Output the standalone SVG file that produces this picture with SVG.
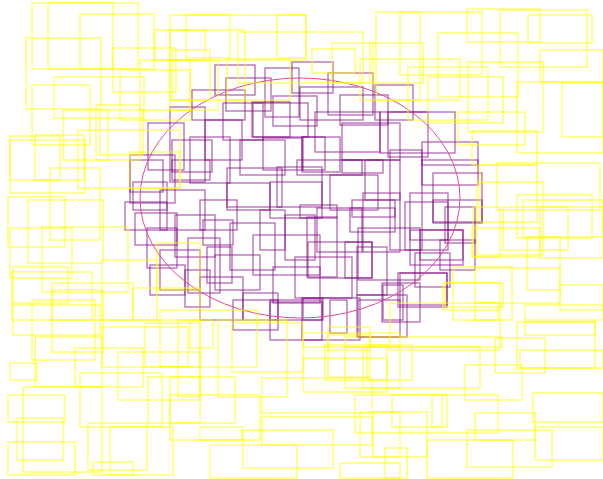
<svg xmlns="http://www.w3.org/2000/svg" width="603" height="479" viewBox="0 0 603 479">
<style>
.p{fill:none;stroke:#800080;stroke-width:1.3;stroke-opacity:0.6}
.y{fill:none;stroke:#ffff00;stroke-width:1.3;stroke-opacity:0.65}
.e{fill:none;stroke:#e04a9e;stroke-width:1}
</style>
<rect width="603" height="479" fill="#ffffff"/>
<g id="purple">
<rect class="p" x="226" y="78" width="45" height="33"/>
<rect class="p" x="265" y="68" width="34" height="49"/>
<rect class="p" x="292" y="62" width="41" height="31"/>
<rect class="p" x="328" y="73" width="45" height="42"/>
<rect class="p" x="273" y="96" width="44" height="30"/>
<rect class="p" x="300" y="87" width="63" height="33"/>
<rect class="p" x="223" y="103" width="40" height="37"/>
<rect class="p" x="253" y="103" width="55" height="34"/>
<rect class="p" x="315" y="112" width="65" height="40"/>
<rect class="p" x="342" y="123" width="58" height="37"/>
<rect class="p" x="240" y="140" width="45" height="35"/>
<rect class="p" x="205" y="120" width="37" height="40"/>
<rect class="p" x="388" y="112" width="40" height="45"/>
<rect class="p" x="302" y="137" width="38" height="35"/>
<rect class="p" x="192" y="90" width="53" height="30"/>
<rect class="p" x="148" y="123" width="36" height="47"/>
<rect class="p" x="172" y="140" width="40" height="32"/>
<rect class="p" x="252" y="102" width="38" height="35"/>
<rect class="p" x="263" y="138" width="40" height="32"/>
<rect class="p" x="302" y="137" width="23" height="33"/>
<rect class="p" x="130" y="155" width="45" height="48"/>
<rect class="p" x="190" y="137" width="40" height="46"/>
<rect class="p" x="133" y="182" width="34" height="28"/>
<rect class="p" x="227" y="183" width="43" height="27"/>
<rect class="p" x="277" y="167" width="45" height="40"/>
<rect class="p" x="170" y="107" width="35" height="75"/>
<rect class="p" x="380" y="112" width="75" height="41"/>
<rect class="p" x="422" y="142" width="56" height="23"/>
<rect class="p" x="375" y="85" width="38" height="35"/>
<rect class="p" x="125" y="202" width="42" height="28"/>
<rect class="p" x="135" y="213" width="42" height="32"/>
<rect class="p" x="147" y="228" width="30" height="40"/>
<rect class="p" x="160" y="250" width="40" height="40"/>
<rect class="p" x="185" y="270" width="25" height="37"/>
<rect class="p" x="130" y="160" width="33" height="32"/>
<rect class="p" x="172" y="160" width="38" height="20"/>
<rect class="p" x="188" y="238" width="32" height="55"/>
<rect class="p" x="200" y="200" width="37" height="30"/>
<rect class="p" x="227" y="168" width="55" height="39"/>
<rect class="p" x="270" y="182" width="52" height="36"/>
<rect class="p" x="260" y="210" width="25" height="40"/>
<rect class="p" x="230" y="223" width="45" height="47"/>
<rect class="p" x="253" y="235" width="67" height="40"/>
<rect class="p" x="307" y="217" width="30" height="60"/>
<rect class="p" x="317" y="208" width="45" height="44"/>
<rect class="p" x="297" y="160" width="65" height="15"/>
<rect class="p" x="342" y="160" width="41" height="13"/>
<rect class="p" x="350" y="208" width="45" height="24"/>
<rect class="p" x="363" y="193" width="37" height="59"/>
<rect class="p" x="295" y="257" width="57" height="41"/>
<rect class="p" x="345" y="242" width="27" height="36"/>
<rect class="p" x="357" y="247" width="30" height="48"/>
<rect class="p" x="273" y="267" width="47" height="36"/>
<rect class="p" x="243" y="293" width="35" height="27"/>
<rect class="p" x="207" y="247" width="25" height="36"/>
<rect class="p" x="200" y="277" width="43" height="43"/>
<rect class="p" x="303" y="298" width="20" height="22"/>
<rect class="p" x="270" y="302" width="52" height="18"/>
<rect class="p" x="383" y="285" width="20" height="35"/>
<rect class="p" x="203" y="220" width="30" height="25"/>
<rect class="p" x="422" y="160" width="56" height="25"/>
<rect class="p" x="433" y="173" width="49" height="49"/>
<rect class="p" x="410" y="193" width="38" height="47"/>
<rect class="p" x="445" y="207" width="30" height="36"/>
<rect class="p" x="420" y="230" width="43" height="30"/>
<rect class="p" x="415" y="253" width="35" height="34"/>
<rect class="p" x="400" y="273" width="47" height="32"/>
<rect class="p" x="390" y="150" width="32" height="100"/>
<rect class="p" x="300" y="205" width="37" height="13"/>
<rect class="p" x="352" y="200" width="43" height="17"/>
<rect class="p" x="308" y="242" width="64" height="36"/>
<rect class="p" x="358" y="228" width="62" height="52"/>
<rect class="p" x="405" y="202" width="43" height="48"/>
<rect class="p" x="410" y="230" width="53" height="35"/>
<rect class="p" x="433" y="200" width="49" height="23"/>
<rect class="p" x="398" y="273" width="49" height="34"/>
<rect class="p" x="382" y="283" width="38" height="39"/>
<rect class="p" x="357" y="295" width="50" height="42"/>
<rect class="p" x="302" y="298" width="58" height="42"/>
<rect class="p" x="233" y="300" width="45" height="30"/>
<rect class="p" x="270" y="300" width="52" height="40"/>
<rect class="p" x="330" y="300" width="17" height="33"/>
<rect class="p" x="358" y="300" width="42" height="37"/>
<rect class="p" x="160" y="190" width="45" height="40"/>
<rect class="p" x="175" y="215" width="40" height="42"/>
<rect class="p" x="330" y="175" width="48" height="35"/>
<rect class="p" x="365" y="160" width="35" height="40"/>
<rect class="p" x="215" y="65" width="40" height="30"/>
<rect class="p" x="340" y="95" width="48" height="30"/>
<rect class="p" x="215" y="255" width="45" height="35"/>
<rect class="p" x="285" y="215" width="30" height="45"/>
<rect class="p" x="150" y="265" width="35" height="30"/>
<rect class="p" x="440" y="240" width="35" height="30"/>
</g>
<ellipse id="ellipse" class="e" cx="300" cy="198" rx="160" ry="120"/>
<g id="yellow">
<rect class="y" x="32" y="3" width="106" height="66"/>
<rect class="y" x="48" y="3" width="65" height="66"/>
<rect class="y" x="80" y="14" width="74" height="55"/>
<rect class="y" x="26" y="38" width="75" height="71"/>
<rect class="y" x="113" y="48" width="63" height="44"/>
<rect class="y" x="155" y="30" width="50" height="30"/>
<rect class="y" x="186" y="15" width="44" height="43"/>
<rect class="y" x="54" y="77" width="90" height="41"/>
<rect class="y" x="32" y="85" width="58" height="60"/>
<rect class="y" x="96" y="105" width="44" height="55"/>
<rect class="y" x="63" y="110" width="45" height="50"/>
<rect class="y" x="10" y="136" width="50" height="44"/>
<rect class="y" x="35" y="135" width="49" height="45"/>
<rect class="y" x="172" y="50" width="38" height="50"/>
<rect class="y" x="140" y="60" width="50" height="50"/>
<rect class="y" x="170" y="15" width="136" height="45"/>
<rect class="y" x="277" y="15" width="29" height="43"/>
<rect class="y" x="238" y="32" width="125" height="51"/>
<rect class="y" x="170" y="30" width="75" height="70"/>
<rect class="y" x="312" y="49" width="43" height="24"/>
<rect class="y" x="332" y="43" width="41" height="40"/>
<rect class="y" x="227" y="59" width="63" height="41"/>
<rect class="y" x="170" y="60" width="48" height="50"/>
<rect class="y" x="376" y="12" width="44" height="88"/>
<rect class="y" x="400" y="12" width="82" height="63"/>
<rect class="y" x="467" y="9" width="73" height="33"/>
<rect class="y" x="500" y="10" width="87" height="57"/>
<rect class="y" x="528" y="15" width="64" height="28"/>
<rect class="y" x="438" y="33" width="80" height="64"/>
<rect class="y" x="370" y="43" width="53" height="40"/>
<rect class="y" x="408" y="67" width="80" height="53"/>
<rect class="y" x="360" y="59" width="100" height="41"/>
<rect class="y" x="428" y="77" width="75" height="46"/>
<rect class="y" x="468" y="62" width="75" height="70"/>
<rect class="y" x="540" y="50" width="63" height="32"/>
<rect class="y" x="517" y="82" width="86" height="71"/>
<rect class="y" x="562" y="83" width="41" height="54"/>
<rect class="y" x="458" y="112" width="67" height="33"/>
<rect class="y" x="472" y="131" width="65" height="34"/>
<rect class="y" x="10" y="140" width="75" height="53"/>
<rect class="y" x="78" y="130" width="102" height="58"/>
<rect class="y" x="8" y="197" width="57" height="50"/>
<rect class="y" x="28" y="200" width="75" height="63"/>
<rect class="y" x="50" y="168" width="50" height="72"/>
<rect class="y" x="10" y="228" width="62" height="50"/>
<rect class="y" x="42" y="227" width="86" height="65"/>
<rect class="y" x="12" y="272" width="80" height="48"/>
<rect class="y" x="102" y="260" width="55" height="60"/>
<rect class="y" x="13" y="267" width="55" height="36"/>
<rect class="y" x="52" y="283" width="81" height="37"/>
<rect class="y" x="133" y="288" width="67" height="32"/>
<rect class="y" x="157" y="243" width="43" height="47"/>
<rect class="y" x="480" y="165" width="57" height="57"/>
<rect class="y" x="497" y="163" width="103" height="47"/>
<rect class="y" x="477" y="182" width="66" height="73"/>
<rect class="y" x="517" y="195" width="75" height="43"/>
<rect class="y" x="503" y="207" width="65" height="43"/>
<rect class="y" x="523" y="200" width="80" height="37"/>
<rect class="y" x="540" y="207" width="63" height="51"/>
<rect class="y" x="472" y="228" width="68" height="29"/>
<rect class="y" x="527" y="237" width="33" height="53"/>
<rect class="y" x="453" y="267" width="59" height="53"/>
<rect class="y" x="475" y="268" width="85" height="35"/>
<rect class="y" x="445" y="283" width="58" height="24"/>
<rect class="y" x="560" y="285" width="43" height="25"/>
<rect class="y" x="475" y="303" width="23" height="17"/>
<rect class="y" x="525" y="305" width="78" height="15"/>
<rect class="y" x="443" y="283" width="57" height="27"/>
<rect class="y" x="390" y="303" width="110" height="47"/>
<rect class="y" x="328" y="327" width="42" height="23"/>
<rect class="y" x="473" y="207" width="27" height="50"/>
<rect class="y" x="13" y="305" width="87" height="30"/>
<rect class="y" x="52" y="290" width="51" height="62"/>
<rect class="y" x="32" y="300" width="63" height="60"/>
<rect class="y" x="35" y="337" width="67" height="50"/>
<rect class="y" x="75" y="348" width="68" height="39"/>
<rect class="y" x="102" y="327" width="86" height="40"/>
<rect class="y" x="145" y="323" width="55" height="44"/>
<rect class="y" x="118" y="352" width="82" height="48"/>
<rect class="y" x="10" y="363" width="27" height="17"/>
<rect class="y" x="23" y="387" width="79" height="85"/>
<rect class="y" x="80" y="373" width="82" height="54"/>
<rect class="y" x="148" y="377" width="52" height="46"/>
<rect class="y" x="8" y="395" width="57" height="27"/>
<rect class="y" x="17" y="418" width="46" height="42"/>
<rect class="y" x="8" y="442" width="67" height="33"/>
<rect class="y" x="88" y="423" width="59" height="47"/>
<rect class="y" x="93" y="462" width="40" height="13"/>
<rect class="y" x="110" y="427" width="63" height="48"/>
<rect class="y" x="178" y="320" width="22" height="77"/>
<rect class="y" x="190" y="320" width="23" height="28"/>
<rect class="y" x="160" y="310" width="97" height="57"/>
<rect class="y" x="218" y="320" width="69" height="77"/>
<rect class="y" x="232" y="323" width="71" height="49"/>
<rect class="y" x="303" y="333" width="97" height="14"/>
<rect class="y" x="328" y="335" width="42" height="42"/>
<rect class="y" x="303" y="358" width="84" height="34"/>
<rect class="y" x="325" y="345" width="62" height="35"/>
<rect class="y" x="363" y="347" width="37" height="41"/>
<rect class="y" x="262" y="378" width="110" height="35"/>
<rect class="y" x="170" y="377" width="65" height="46"/>
<rect class="y" x="170" y="395" width="90" height="45"/>
<rect class="y" x="262" y="417" width="110" height="28"/>
<rect class="y" x="243" y="430" width="90" height="38"/>
<rect class="y" x="210" y="445" width="87" height="33"/>
<rect class="y" x="340" y="463" width="60" height="15"/>
<rect class="y" x="373" y="412" width="27" height="45"/>
<rect class="y" x="200" y="427" width="42" height="13"/>
<rect class="y" x="517" y="322" width="78" height="46"/>
<rect class="y" x="525" y="322" width="70" height="13"/>
<rect class="y" x="495" y="338" width="50" height="35"/>
<rect class="y" x="520" y="350" width="83" height="18"/>
<rect class="y" x="345" y="337" width="157" height="10"/>
<rect class="y" x="345" y="347" width="135" height="41"/>
<rect class="y" x="367" y="345" width="45" height="35"/>
<rect class="y" x="465" y="365" width="57" height="35"/>
<rect class="y" x="355" y="395" width="143" height="38"/>
<rect class="y" x="432" y="395" width="15" height="32"/>
<rect class="y" x="360" y="412" width="67" height="45"/>
<rect class="y" x="475" y="413" width="60" height="27"/>
<rect class="y" x="467" y="430" width="85" height="37"/>
<rect class="y" x="535" y="427" width="68" height="33"/>
<rect class="y" x="533" y="393" width="70" height="29"/>
<rect class="y" x="427" y="440" width="86" height="38"/>
<rect class="y" x="385" y="448" width="22" height="30"/>
<rect class="y" x="392" y="395" width="50" height="32"/>
<rect class="y" x="130" y="152" width="50" height="36"/>
<rect class="y" x="120" y="70" width="70" height="50"/>
<rect class="y" x="100" y="110" width="43" height="45"/>
</g>
</svg>
